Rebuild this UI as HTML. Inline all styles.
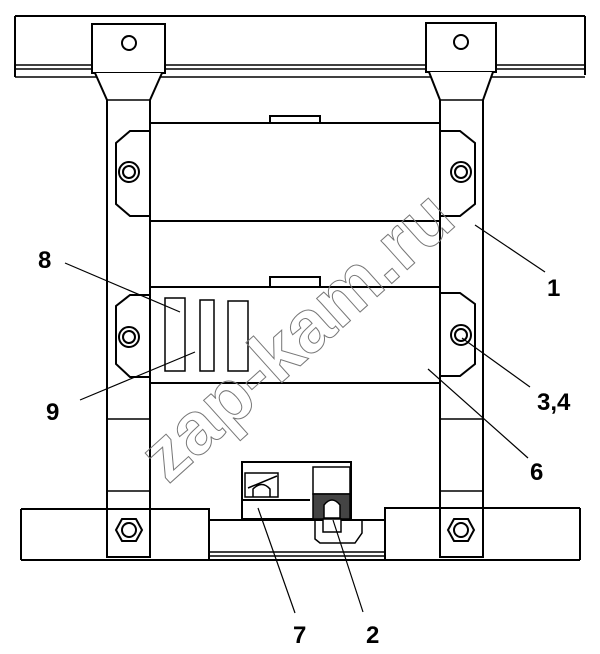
<!DOCTYPE html>
<html><head><meta charset="utf-8"><style>
html,body{margin:0;padding:0;background:#fff;}
svg{display:block;}
text{font-family:"Liberation Sans",Arial,sans-serif;font-weight:bold;}
</style></head><body>
<svg width="600" height="654" viewBox="0 0 600 654" xmlns="http://www.w3.org/2000/svg">
<g fill="none" stroke="#000" stroke-width="2">
<path d="M15 16 H585 M15 16 V77 M585 16 V75" />
<path d="M15 65 H585 M15 69 H585 M15 77 H585" stroke-width="1.5"/>
<rect x="92" y="24" width="73" height="49" fill="#fff"/>
<circle cx="129" cy="43" r="7"/>
<rect x="426" y="23" width="70" height="49" fill="#fff"/>
<circle cx="461" cy="42" r="7"/>
<path d="M95 73 L107 100 V557 H150 V100 L162 73" fill="#fff"/>
<path d="M429 72 L440 100 V557 H483 V100 L493 72" fill="#fff"/>
<path d="M107 100 H150 M440 100 H483" stroke-width="1.5"/>
<path d="M107 419 H150 M107 491 H150 M440 419 H483 M440 491 H483" stroke-width="1.5"/>
<path d="M150 221 V287 M440 221 V287 M150 383 V557 M440 383 V557" />
<path d="M150 131 H130 L116 143 V204 L130 216 H150" fill="#fff"/>
<path d="M440 131 H460 L475 143 V204 L460 216 H440" fill="#fff"/>
<circle cx="129" cy="172" r="10"/><circle cx="129" cy="172" r="6"/>
<circle cx="461" cy="172" r="10"/><circle cx="461" cy="172" r="6"/>
<rect x="270" y="116" width="50" height="7"/>
<rect x="150" y="123" width="290" height="98" fill="#fff"/>
<path d="M150 295 H130 L116 306 V364 L130 377 H150" fill="#fff"/>
<path d="M440 293 H460 L475 304 V364 L460 376 H440" fill="#fff"/>
<circle cx="129" cy="337" r="10"/><circle cx="129" cy="337" r="6"/>
<circle cx="461" cy="335" r="10"/><circle cx="461" cy="335" r="6"/>
<rect x="270" y="277" width="50" height="10"/>
<rect x="150" y="287" width="290" height="96" fill="#fff"/>
<g stroke-width="1.5"><rect x="165" y="298" width="20" height="73"/><rect x="200" y="300" width="14" height="71"/><rect x="228" y="301" width="20" height="70"/></g>
<rect x="209" y="520" width="176" height="40" fill="#fff"/>
<path d="M209 552 H385 M209 556 H385" stroke-width="1.5"/>
<path d="M21 509 H209 V560 H21 M21 509 V560" fill="#fff"/>
<path d="M580 508 H385 V560 H580 M580 508 V560" fill="#fff"/>
<rect x="107" y="509" width="43" height="48" fill="#fff"/>
<rect x="440" y="508" width="43" height="49" fill="#fff"/>
<polygon points="116,530 122,519 136,519 142,530 136,541 122,541"/><circle cx="129" cy="530" r="7"/>
<polygon points="448,530 454,519 468,519 474,530 468,541 454,541"/><circle cx="461" cy="530" r="7"/>
<rect x="242" y="462" width="109" height="57" fill="#fff"/>
<rect x="245" y="473" width="33" height="24" stroke-width="1.5"/>
<path d="M248 488 L277 476 M253 497 V489 Q262 480 270 489 V497" stroke-width="1.5"/>
<path d="M242 500 H310" />
<rect x="313" y="467" width="37" height="27" stroke-width="1.5"/>
<rect x="313" y="494" width="37" height="25" fill="#444" stroke-width="1.5"/>
<path d="M324 518 V505 Q332 495 340 505 V518 Z" fill="#fff" stroke-width="1.5"/>
<path d="M315 519 V539 L320 543 H355 L362 533 V519" stroke-width="1.5"/>
<rect x="323" y="519" width="18" height="13" fill="#fff" stroke-width="1.5"/>
</g>
<g stroke="#000" stroke-width="1.2">
<line x1="65" y1="263" x2="180" y2="312"/>
<line x1="475" y1="225" x2="545" y2="272"/>
<line x1="80" y1="400" x2="195" y2="352"/>
<line x1="462" y1="338" x2="530" y2="387"/>
<line x1="428" y1="369" x2="528" y2="458"/>
<line x1="258" y1="508" x2="295" y2="613"/>
<line x1="333" y1="520" x2="363" y2="612"/>
</g>
<text x="0" y="0" font-size="74" fill="none" stroke="#777" stroke-width="1" transform="translate(168,485) rotate(-42)">zap-kam.ru</text>
<g font-size="24" fill="#000">
<text x="38" y="268">8</text>
<text x="547" y="296">1</text>
<text x="46" y="420">9</text>
<text x="537" y="410">3,4</text>
<text x="530" y="480">6</text>
<text x="293" y="643">7</text>
<text x="366" y="643">2</text>
</g>
</svg>
</body></html>
